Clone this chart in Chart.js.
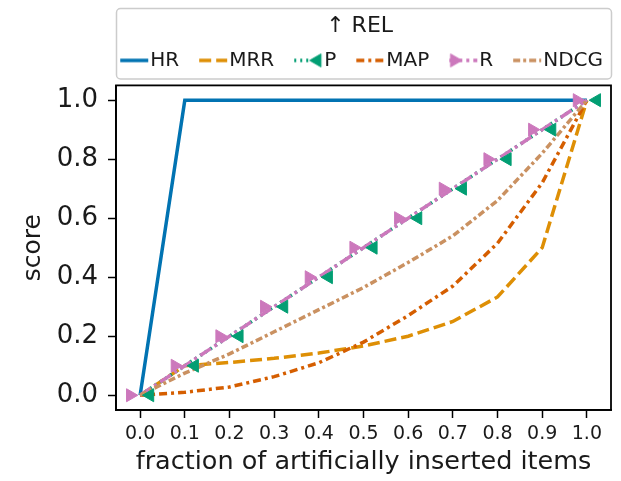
<!DOCTYPE html>
<html lang="en">
<head>
<meta charset="UTF-8">
<title>REL</title>
<script src="https://cdn.jsdelivr.net/npm/chart.js@4/dist/chart.umd.min.js"></script>
<style>
  body { margin: 0; background: #fff; }
  #wrap { width: 621px; height: 481px; }
</style>
</head>
<body>
<div id="wrap"><canvas id="myChart"></canvas></div>
<script>
  // x: fraction of artificially inserted items
  const fractions = [0.0, 0.1, 0.2, 0.3, 0.4, 0.5, 0.6, 0.7, 0.8, 0.9, 1.0];
  const yTicks = [0.0, 0.2, 0.4, 0.6, 0.8, 1.0];

  // scores
  const hr       = [0, 1, 1, 1, 1, 1, 1, 1, 1, 1, 1];
  const mrr      = [0, 0.1, 0.111, 0.125, 0.143, 0.167, 0.2, 0.25, 0.333, 0.5, 1.0];
  const prec     = [0, 0.1, 0.2, 0.3, 0.4, 0.5, 0.6, 0.7, 0.8, 0.9, 1.0];
  const mapScore = [0, 0.01, 0.028, 0.063, 0.11, 0.18, 0.27, 0.37, 0.515, 0.72, 1.0];
  const rec      = [0, 0.1, 0.2, 0.3, 0.4, 0.5, 0.6, 0.7, 0.8, 0.9, 1.0];
  const ndcg     = [0, 0.075, 0.14, 0.215, 0.29, 0.365, 0.45, 0.54, 0.66, 0.82, 1.0];

  // styles (seaborn colorblind palette), markers are dodged a little sideways
  const series = [
    { label: 'HR',   data: hr,       color: '#0173b2', dash: [] },
    { label: 'MRR',  data: mrr,      color: '#de8f05', dash: [12, 5] },
    { label: 'P',    data: prec,     color: '#029e73', dash: [2, 4], marker: -90, shift: 0.022 },
    { label: 'MAP',  data: mapScore, color: '#d55e00', dash: [8, 4, 3, 4] },
    { label: 'R',    data: rec,      color: '#cc78bc', dash: [13, 4, 3, 4], marker: 90, shift: -0.022 },
    { label: 'NDCG', data: ndcg,     color: '#ca9161', dash: [7, 3, 3, 3] }
  ];

  const FONT = "'DejaVu Sans', sans-serif";
  const TXT = '#1a1a1a';
  const LW = 3.5;
  Chart.defaults.font.family = FONT;

  // small line sample (+ marker) used as the legend handle
  function handle(s) {
    const c = document.createElement('canvas');
    c.width = 50; c.height = 20;
    const g = c.getContext('2d');
    g.strokeStyle = s.color;
    g.lineWidth = LW;
    g.setLineDash(s.dash);
    g.beginPath(); g.moveTo(21, 10); g.lineTo(49, 10); g.stroke();
    if (s.marker !== undefined) {
      g.setLineDash([]);
      g.fillStyle = s.color;
      g.lineWidth = 1;
      Chart.helpers.drawPoint(g, { pointStyle: 'triangle', rotation: s.marker, radius: 7.5, borderWidth: 1 },
        35 + (s.shift > 0 ? 9 : -9), 10);
    }
    return c;
  }
  const handles = series.map(handle);

  const datasets = [];
  series.forEach((s, i) => {
    datasets.push({
      label: s.label,
      data: s.data.map((v, k) => ({ x: fractions[k], y: v })),
      borderColor: s.color,
      borderWidth: LW,
      borderDash: s.dash,
      pointRadius: 0,
      tension: 0,
      fill: false,
      xAxisID: 'x',
      order: series.length - i + 1
    });
  });
  series.forEach(s => {
    if (s.marker === undefined) return;
    datasets.push({
      label: s.label + ' markers',
      data: s.data.map((v, k) => ({ x: fractions[k] + s.shift, y: v })),
      showLine: false,
      pointStyle: 'triangle',
      pointRotation: s.marker,
      pointRadius: 7.5,
      pointBackgroundColor: s.color,
      pointBorderColor: s.color,
      pointBorderWidth: 1,
      xAxisID: 'x',
      order: 0
    });
  });

  // axes frame + legend box
  const framePlugin = {
    id: 'frame',
    afterDraw(chart) {
      const { ctx, chartArea: a, legend } = chart;
      ctx.save();
      ctx.strokeStyle = '#000';
      ctx.lineWidth = 1.8;
      ctx.strokeRect(a.left, a.top, a.right - a.left, a.bottom - a.top);
      ctx.strokeStyle = '#cccccc';
      ctx.lineWidth = 1.5;
      ctx.beginPath();
      ctx.roundRect(a.left + 0.5, legend.top + 0.5, a.right - a.left, legend.bottom - legend.top - 2, 4);
      ctx.stroke();
      ctx.restore();
    }
  };

  new Chart(document.getElementById('myChart'), {
    type: 'line',
    data: { datasets: datasets },
    plugins: [framePlugin],
    options: {
      responsive: true,
      maintainAspectRatio: false,
      animation: false,
      layout: { padding: { top: 8, right: 10, left: 0, bottom: 0 } },
      plugins: {
        tooltip: { enabled: false },
        legend: {
          position: 'top',
          align: 'end',
          title: {
            display: true, text: '↑ REL', color: TXT,
            font: { size: 22 }, padding: { top: 7, bottom: 1 }
          },
          labels: {
            usePointStyle: true,
            pointStyleWidth: 32,
            padding: 8,
            color: TXT,
            font: { size: 20 },
            generateLabels: () => series.map((s, i) => ({
              text: s.label, pointStyle: handles[i], fillStyle: s.color,
              strokeStyle: s.color, lineWidth: 0, hidden: false, datasetIndex: i, fontColor: TXT
            }))
          }
        }
      },
      scales: {
        x: {
          type: 'linear', min: -0.054, max: 1.054,
          afterBuildTicks: s => { s.ticks = fractions.map(v => ({ value: v })); },
          afterFit: s => { s.height = 71; },
          ticks: { color: TXT, font: { size: 19 }, padding: 5, maxRotation: 0, autoSkip: false,
                   callback: v => v.toFixed(1) },
          grid: { display: true, drawOnChartArea: false, tickLength: 8, tickWidth: 1.5, tickColor: '#000' },
          border: { display: true, color: '#000', width: 1.8 },
          title: { display: true, text: 'fraction of artificially inserted items', color: TXT,
                   font: { size: 25.5 }, padding: { top: 0, bottom: 3 } }
        },
        x2: {
          // spacer between legend and plot
          type: 'linear', position: 'top', display: true,
          grid: { display: false, drawTicks: false },
          ticks: { display: false },
          border: { display: false },
          afterFit: s => { s.height = 5; }
        },
        y: {
          type: 'linear', min: -0.05, max: 1.05,
          afterBuildTicks: s => { s.ticks = yTicks.map(v => ({ value: v })); },
          afterFit: s => { s.width = 116; },
          ticks: { color: TXT, font: { size: 26 }, padding: 10, callback: v => v.toFixed(1) },
          grid: { display: true, drawOnChartArea: false, tickLength: 8, tickWidth: 1.5, tickColor: '#000' },
          border: { display: true, color: '#000', width: 1.8 },
          title: { display: true, text: 'score', color: TXT, font: { size: 25 }, padding: { top: 18 } }
        }
      }
    }
  });
</script>
</body>
</html>
